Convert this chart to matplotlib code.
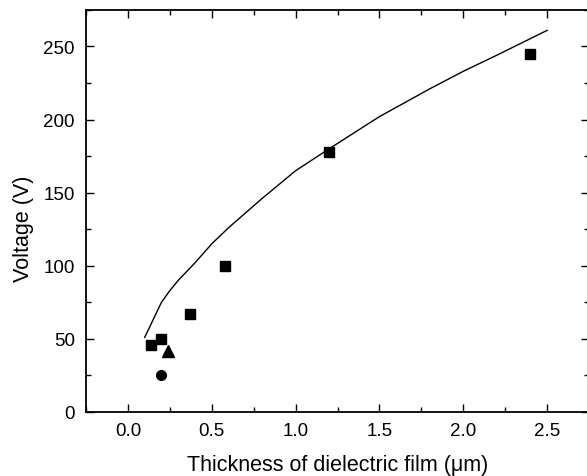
import matplotlib
matplotlib.use("Agg")
import matplotlib.pyplot as plt
from matplotlib.ticker import MultipleLocator

plt.rcParams['font.family'] = ['Liberation Sans', 'DejaVu Sans']

# Dados
quad_x = [0.14, 0.20, 0.37, 0.58, 1.20, 2.40]
quad_y = [46, 50, 67, 100, 178, 245]
tri_x = [0.24]
tri_y = [42]
circ_x = [0.20]
circ_y = [25]

# Curva teorica (pontos lidos)
curva_x = [0.10, 0.15, 0.20, 0.25, 0.30, 0.35, 0.40, 0.50, 0.60, 0.80, 1.00, 1.20, 1.50, 1.80, 2.00, 2.20, 2.50]
curva_y = [51, 63, 75, 83, 90, 96, 102, 115, 126, 146, 165, 180, 202, 221, 233, 244, 261]

fig = plt.figure(figsize=(5.87, 4.77), dpi=100)
ax = fig.add_axes([0.1465, 0.1342, 0.857, 0.843])

ax.plot(curva_x, curva_y, color='black', linewidth=1.0)
ax.plot(quad_x, quad_y, 's', color='black', markersize=7.5)
ax.plot(tri_x, tri_y, '^', color='black', markersize=8)
ax.plot(circ_x, circ_y, 'o', color='black', markersize=7)

ax.set_xlim(-0.25, 2.75)
ax.set_ylim(0, 275)
ax.set_xticks([0.0, 0.5, 1.0, 1.5, 2.0, 2.5])
ax.xaxis.set_minor_locator(MultipleLocator(0.25))
ax.yaxis.set_major_locator(MultipleLocator(50))
ax.yaxis.set_minor_locator(MultipleLocator(25))

ax.tick_params(which='both', direction='in', top=True, right=True, width=1.0)
ax.tick_params(which='major', length=6, labelsize=13.5)
ax.tick_params(which='minor', length=3.5)
ax.tick_params(axis='x', pad=7.5)
ax.tick_params(axis='y', pad=8)

for s in ax.spines.values():
    s.set_linewidth(1.3)

ax.set_xlabel('Thickness of dielectric film (\u03bcm)', fontsize=15.5)
ax.set_ylabel('Voltage (V)', fontsize=15.5)
ax.xaxis.set_label_coords(0.5, -0.105)
ax.yaxis.set_label_coords(-0.103, 0.459)

fig.savefig('out.png', dpi=100)
